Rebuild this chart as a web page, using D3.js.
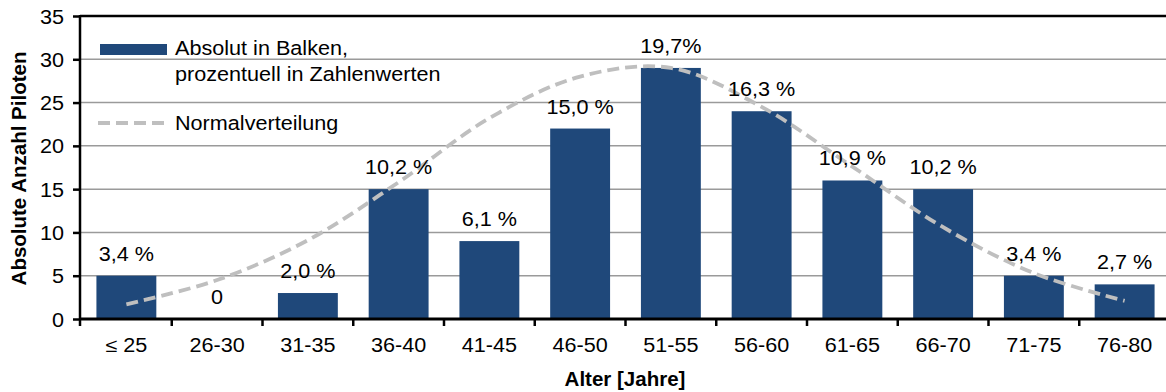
<!DOCTYPE html>
<html>
<head>
<meta charset="utf-8">
<script src="https://cdn.jsdelivr.net/npm/d3@7"></script>
<style>
  html, body { margin: 0; padding: 0; background: #fff; }
  svg { display: block; font-family: "Liberation Sans", Arial, sans-serif; }
</style>
</head>
<body>
<svg id="chart" width="1166" height="392"></svg>
<script>
// Age groups of the pilots
const categories = ["≤ 25", "26-30", "31-35", "36-40", "41-45", "46-50", "51-55", "56-60", "61-65", "66-70", "71-75", "76-80"];
// Absolute number of pilots per age group
const counts = [5, 0, 3, 15, 9, 22, 29, 24, 16, 15, 5, 4];
// Share per age group as printed above the bars
const percentLabels = ["3,4 %", "0", "2,0 %", "10,2 %", "6,1 %", "15,0 %", "19,7%", "16,3 %", "10,9 %", "10,2 %", "3,4 %", "2,7 %"];
// Fitted normal distribution, evaluated at each age group
const normalCurve = [1.7, 4.5, 9.1, 15.8, 23.2, 28.0, 29.0, 24.5, 17.6, 10.6, 5.3, 2.1];
// Y axis ticks
const yTicks = [0, 5, 10, 15, 20, 25, 30, 35];

(function draw() {
  const svg = d3.select("#chart");
  const plotLeft = 81, plotRight = 1170, plotTop = 16, plotBottom = 319;
  const textScale = "scale(1.12,1)";
  const fontSize = 19.3;

  const x = d3.scaleBand().domain(categories).range([plotLeft, plotRight]).paddingInner(0.34).paddingOuter(0.17);
  const y = d3.scaleLinear().domain([0, 35]).range([plotBottom, plotTop]);

  // horizontal grid lines
  svg.append("g").selectAll("line").data(yTicks.filter(v => v > 0 && v < 35)).join("line")
    .attr("x1", plotLeft).attr("x2", 1166)
    .attr("y1", d => y(d)).attr("y2", d => y(d))
    .attr("stroke", "#9a9a9a").attr("stroke-width", 1.5);

  // top frame line
  svg.append("line").attr("x1", plotLeft - 1).attr("x2", 1166).attr("y1", y(35)).attr("y2", y(35))
    .attr("stroke", "#000").attr("stroke-width", 2.5);

  // bars
  svg.append("g").selectAll("rect").data(counts).join("rect")
    .attr("x", (d, i) => x(categories[i]))
    .attr("width", x.bandwidth())
    .attr("y", d => y(d))
    .attr("height", d => y(0) - y(d))
    .attr("fill", "#1f487a");

  // normal distribution curve
  const line = d3.line()
    .x((d, i) => x(categories[i]) + x.bandwidth() / 2)
    .y(d => y(d))
    .curve(d3.curveCatmullRom.alpha(0.5));
  svg.append("path").datum(normalCurve)
    .attr("d", line)
    .attr("fill", "none")
    .attr("stroke", "#bfbfbf")
    .attr("stroke-width", 3.8)
    .attr("stroke-dasharray", "12,6");

  // percentage labels
  svg.append("g").selectAll("text").data(percentLabels).join("text")
    .attr("transform", (d, i) => `translate(${x(categories[i]) + x.bandwidth() / 2},${y(counts[i]) - 15}) ${textScale}`)
    .attr("text-anchor", "middle")
    .attr("font-size", fontSize)
    .attr("fill", "#000")
    .text(d => d);

  // y axis
  const yAxis = svg.append("g").attr("transform", `translate(${plotLeft - 1},0)`)
    .call(d3.axisLeft(y).tickValues(yTicks).tickSize(7).tickSizeOuter(0));
  yAxis.select(".domain").attr("stroke", "#000").attr("stroke-width", 2.5).attr("d", `M0,${plotTop - 1}V${plotBottom + 7}`);
  yAxis.selectAll(".tick line").attr("stroke", "#000").attr("stroke-width", 2.5);
  yAxis.selectAll(".tick text")
    .attr("x", -16 / 1.12).attr("y", 7).attr("dy", null)
    .attr("transform", textScale)
    .attr("font-size", fontSize).attr("font-family", null).attr("fill", "#000");

  // x axis with labels centred in each band
  const xAxis = svg.append("g").attr("transform", `translate(0,${plotBottom})`)
    .call(d3.axisBottom(x).tickSize(0).tickSizeOuter(0));
  xAxis.select(".domain").attr("stroke", "#000").attr("stroke-width", 3).attr("d", `M${plotLeft - 2},0H1166`);
  xAxis.selectAll(".tick text")
    .attr("y", 33).attr("dy", null)
    .attr("transform", textScale)
    .attr("font-size", fontSize).attr("font-family", null).attr("fill", "#000");

  // tick marks on the boundaries between age groups
  const half = x.step() * x.paddingInner() / 2;
  const bounds = categories.slice(1).map(c => x(c) - half);
  xAxis.append("g").selectAll("line").data(bounds).join("line")
    .attr("x1", d => d).attr("x2", d => d)
    .attr("y1", 0).attr("y2", 7)
    .attr("stroke", "#000").attr("stroke-width", 2.5);

  // axis titles
  svg.append("text")
    .attr("x", 625).attr("y", 386)
    .attr("text-anchor", "middle")
    .attr("font-size", 20.5).attr("font-weight", "bold")
    .text("Alter [Jahre]");
  svg.append("text")
    .attr("transform", `translate(26,${(plotTop + plotBottom) / 2 + 1}) rotate(-90)`)
    .attr("text-anchor", "middle")
    .attr("font-size", 20.5).attr("font-weight", "bold")
    .text("Absolute Anzahl Piloten");

  // legend
  const legend = svg.append("g");
  legend.append("rect").attr("x", 100).attr("y", 44).attr("width", 67).attr("height", 11).attr("fill", "#1f487a");
  legend.append("text").attr("transform", `translate(175,55) ${textScale}`).attr("font-size", fontSize).text("Absolut in Balken,");
  legend.append("text").attr("transform", `translate(175,80.5) ${textScale}`).attr("font-size", fontSize).text("prozentuell in Zahlenwerten");
  legend.append("line").attr("x1", 98).attr("x2", 166).attr("y1", 123).attr("y2", 123)
    .attr("stroke", "#bfbfbf").attr("stroke-width", 3.8).attr("stroke-dasharray", "12,6");
  legend.append("text").attr("transform", `translate(175,129.5) ${textScale}`).attr("font-size", fontSize).text("Normalverteilung");
})();
</script>
</body>
</html>
